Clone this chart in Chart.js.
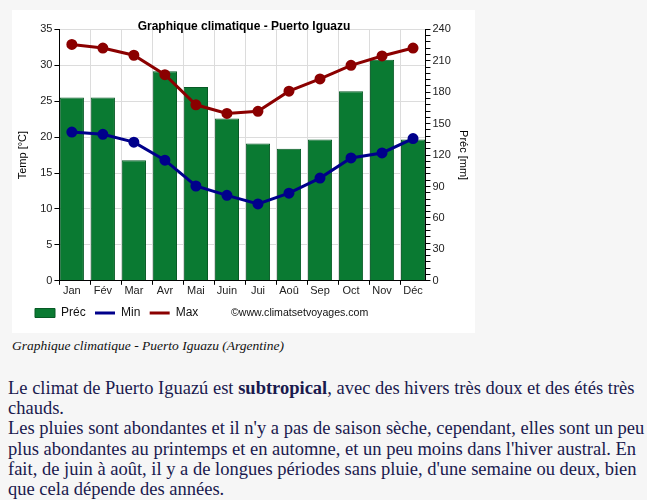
<!DOCTYPE html>
<html>
<head>
<meta charset="utf-8">
<script src="https://cdn.jsdelivr.net/npm/chart.js@4"></script>
<style>
  body { margin: 0; background: #f6f6f6; width: 647px; height: 500px; overflow: hidden; position: relative; }
  #box { position: absolute; left: 12px; top: 10px; width: 463px; height: 323px; background: #fff; }
  #credit { position: absolute; left: 219px; top: 296px; font: 10.6px "Liberation Sans", Arial, sans-serif; color: #111; }
  #caption { position: absolute; left: 12px; top: 338px; font: italic 13.5px "Liberation Serif", serif; color: #111; white-space: nowrap; }
  #texte { position: absolute; left: 8px; top: 378px; font: 18.5px/20.2px "Liberation Serif", serif; color: #1a1a4e; white-space: nowrap; }
</style>
</head>
<body>
<div id="box">
  <canvas id="climat"></canvas>
  <div id="credit">©www.climatsetvoyages.com</div>
</div>
<div id="caption">Graphique climatique - Puerto Iguazu (Argentine)</div>
<div id="texte">Le climat de Puerto Iguazú est <b>subtropical</b>, avec des hivers très doux et des étés très<br>chauds.<br>Les pluies sont abondantes et il n'y a pas de saison sèche, cependant, elles sont un peu<br>plus abondantes au printemps et en automne, et un peu moins dans l'hiver austral. En<br>fait, de juin à août, il y a de longues périodes sans pluie, d'une semaine ou deux, bien<br>que cela dépende des années.</div>
<script>
// données
const mois = ["Jan", "Fév", "Mar", "Avr", "Mai", "Juin", "Jui", "Aoû", "Sep", "Oct", "Nov", "Déc"];
const prec = [175, 175, 115, 200, 185, 155, 131, 126, 135, 181, 211, 135];
const tMin = [20.7, 20.4, 19.3, 16.8, 13.2, 11.9, 10.7, 12.2, 14.3, 17.1, 17.8, 19.8];
const tMax = [32.9, 32.4, 31.4, 28.7, 24.5, 23.3, 23.6, 26.4, 28.1, 30.0, 31.3, 32.4];

const police = { family: "'Liberation Sans', Arial, sans-serif", size: 11 };

// les mois sont placés par leur rang sur un axe linéaire
const points = serie => serie.map((v, i) => ({ x: i, y: v }));

function legende() {
    return [
        { text: "Préc\u00a0", fillStyle: "#0a7a32", strokeStyle: "#075a25", lineWidth: 1, pointStyle: "rect", fontColor: "#111" },
        { text: "Min\u00a0", fillStyle: "#00008b", strokeStyle: "#00008b", lineWidth: 3, pointStyle: "line", fontColor: "#111" },
        { text: "Max", fillStyle: "#8b0000", strokeStyle: "#8b0000", lineWidth: 3, pointStyle: "line", fontColor: "#111" }
    ];
}

// décale la légende comme sur l'original
const decaleLegende = {
    id: "decaleLegende",
    afterLayout(chart) {
        chart.legend.left += 15;
        chart.legend.right += 15;
        chart.legend.top += 3;
        chart.legend.bottom += 3;
    }
};

new Chart(document.getElementById("climat"), {
    data: {
        datasets: [
            {
                type: "bar", label: "Préc", data: points(prec), yAxisID: "yP", order: 3,
                backgroundColor: "#0a7a32", borderColor: "#075a25", borderWidth: 1,
                categoryPercentage: 1, barPercentage: 0.78
            },
            {
                type: "line", label: "Min", data: points(tMin), yAxisID: "yT", order: 1,
                borderColor: "#00008b", backgroundColor: "#00008b", borderWidth: 3,
                pointRadius: 4, tension: 0
            },
            {
                type: "line", label: "Max", data: points(tMax), yAxisID: "yT", order: 2,
                borderColor: "#8b0000", backgroundColor: "#8b0000", borderWidth: 3,
                pointRadius: 4, tension: 0
            }
        ]
    },
    options: {
        responsive: true,
        maintainAspectRatio: false,
        animation: false,
        layout: { padding: { left: 2, right: 1, top: 4, bottom: 7 } },
        plugins: {
            tooltip: { enabled: false },
            title: {
                display: true, text: "Graphique climatique - Puerto Iguazu",
                color: "#000", font: { ...police, size: 12, weight: "bold" },
                padding: { top: 5, bottom: -4 }
            },
            legend: {
                position: "bottom", align: "start",
                labels: {
                    generateLabels: legende, usePointStyle: true, pointStyleWidth: 20,
                    boxHeight: 9, padding: 6, color: "#111",
                    font: { ...police, size: 12 }
                }
            }
        },
        scales: {
            // axe du quadrillage : lignes au bord gauche de chaque barre
            x: {
                type: "linear", position: "bottom", min: -0.4, max: 11.4, offset: false,
                afterBuildTicks: axe => { axe.ticks = mois.map((m, i) => ({ value: i - 0.4 })); },
                grid: { color: "#dcdcdc", tickColor: "#000", tickLength: 4, offset: false },
                border: { color: "#000" },
                ticks: { display: false, padding: 0 }
            },
            // axe des noms de mois
            xm: {
                type: "linear", position: "bottom", min: -0.4, max: 11.4, offset: false,
                afterBuildTicks: axe => { axe.ticks = mois.map((m, i) => ({ value: i })); },
                grid: { display: false, drawTicks: false, tickLength: 0 },
                border: { display: false },
                ticks: {
                    color: "#222", font: police, padding: 0, autoSkip: false, maxRotation: 0,
                    callback: v => mois[v]
                }
            },
            yT: {
                position: "left", min: 0, max: 35,
                ticks: { stepSize: 5, color: "#222", font: police, padding: 2 },
                grid: { color: "#dcdcdc", tickColor: "#000", tickLength: 5 },
                border: { color: "#000" },
                title: { display: true, text: "Temp [°C]", color: "#000", font: police, padding: { top: 2, bottom: 9 } }
            },
            yP: {
                position: "right", min: 0, max: 240,
                ticks: {
                    stepSize: 6, autoSkip: false, color: "#222", font: police, padding: 2,
                    callback: v => (v % 30 === 0 ? v : "")
                },
                grid: { drawOnChartArea: false, tickColor: "#000", tickLength: 5 },
                border: { color: "#000" },
                title: { display: true, text: "Préc [mm]", color: "#000", font: police, padding: 4 }
            }
        }
    },
    plugins: [decaleLegende]
});
</script>
</body>
</html>
